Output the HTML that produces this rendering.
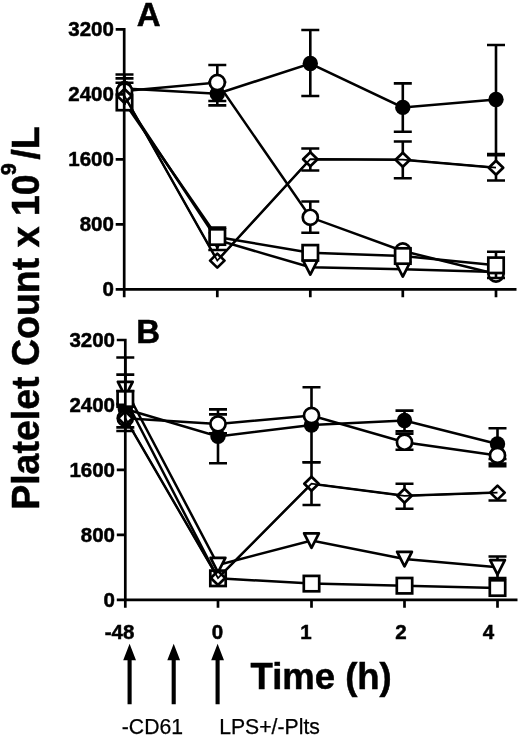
<!DOCTYPE html>
<html><head><meta charset="utf-8"><title>Platelet Count</title>
<style>
html,body{margin:0;padding:0;background:#fff}
svg{display:block}
text{font-family:"Liberation Sans",sans-serif;fill:#000}
.tk{font-size:20.5px;font-weight:bold;stroke:#000;stroke-width:.5px}
.pl{font-size:33px;font-weight:bold;stroke:#000;stroke-width:.5px}
.ax{font-size:36.5px;font-weight:bold;stroke:#000;stroke-width:.5px}
.ay{font-size:37.5px;font-weight:bold;stroke:#000;stroke-width:.5px}
.nt{font-size:21.2px;stroke:#000;stroke-width:.25px}
</style></head><body>
<svg width="520" height="737" viewBox="0 0 520 737">
<rect width="520" height="737" fill="#fff"/>
<g id="panelA">
<path fill="none" stroke="#000" stroke-width="2.6" d="M124.5 74.5V100M115.5 74.5h18"/>
<path fill="none" stroke="#000" stroke-width="2.6" d="M217.3 82V105.4M208.3 82h18M208.3 105.4h18"/>
<path fill="none" stroke="#000" stroke-width="2.6" d="M310.3 30V96M301.3 30h18M301.3 96h18"/>
<path fill="none" stroke="#000" stroke-width="2.6" d="M402.8 83.4V131.8M393.8 83.4h18M393.8 131.8h18"/>
<path fill="none" stroke="#000" stroke-width="2.6" d="M496 45V154M487 45h18M487 154h18"/>
<polyline fill="none" stroke="#000" stroke-width="2.5" points="124.5,88.5 217.3,93.75 310.3,63.5 402.8,107.4 496,99.5"/>
<circle cx="124.5" cy="88.5" r="7.7" fill="#000"/>
<circle cx="217.3" cy="93.75" r="7.7" fill="#000"/>
<circle cx="310.3" cy="63.5" r="7.7" fill="#000"/>
<circle cx="402.8" cy="107.4" r="7.7" fill="#000"/>
<circle cx="496" cy="99.5" r="7.7" fill="#000"/>
<polyline fill="none" stroke="#000" stroke-width="2.5" points="124.5,100 217.3,240 310.3,267.3 402.8,269.2 496,272"/>
<path fill="#fff" stroke="#000" stroke-linejoin="round" stroke-width="2.7" d="M117.1 92.8L131.9 92.8L124.5 107.4Z"/>
<path fill="#fff" stroke="#000" stroke-linejoin="round" stroke-width="2.7" d="M209.9 232.8L224.7 232.8L217.3 247.4Z"/>
<path fill="#fff" stroke="#000" stroke-linejoin="round" stroke-width="2.7" d="M302.9 260.1L317.7 260.1L310.3 274.7Z"/>
<path fill="#fff" stroke="#000" stroke-linejoin="round" stroke-width="2.7" d="M395.4 262L410.2 262L402.8 276.6Z"/>
<path fill="#fff" stroke="#000" stroke-linejoin="round" stroke-width="2.7" d="M488.6 264.8L503.4 264.8L496 279.4Z"/>
<path fill="none" stroke="#000" stroke-width="2.6" d="M124.5 78.4V100M115.5 78.4h18"/>
<path fill="none" stroke="#000" stroke-width="2.6" d="M217.3 65V101M208.3 65h18M208.3 101h18"/>
<path fill="none" stroke="#000" stroke-width="2.6" d="M310.3 201.5V232.7M301.3 201.5h18M301.3 232.7h18"/>
<polyline fill="none" stroke="#000" stroke-width="2.5" points="124.5,91 217.3,82.5 310.3,217.3 402.8,251 496,274"/>
<circle cx="124.5" cy="91" r="7.55" fill="#fff" stroke="#000" stroke-width="2.7"/>
<circle cx="217.3" cy="82.5" r="7.55" fill="#fff" stroke="#000" stroke-width="2.7"/>
<circle cx="310.3" cy="217.3" r="7.55" fill="#fff" stroke="#000" stroke-width="2.7"/>
<circle cx="402.8" cy="251" r="7.55" fill="#fff" stroke="#000" stroke-width="2.7"/>
<circle cx="496" cy="274" r="7.55" fill="#fff" stroke="#000" stroke-width="2.7"/>
<path fill="none" stroke="#000" stroke-width="2.6" d="M496 251.8V278M487 251.8h18M487 278h18"/>
<path fill="none" stroke="#000" stroke-width="2.6" d="M217.3 227.6V250M208.3 227.6h18M208.3 250h18"/>
<polyline fill="none" stroke="#000" stroke-width="2.5" points="124.5,102.5 217.3,237 310.3,252.8 402.8,256 496,265.3"/>
<rect x="116.8" y="94.8" width="15.4" height="15.4" fill="#fff" stroke="#000" stroke-width="2.7"/>
<rect x="209.6" y="229.3" width="15.4" height="15.4" fill="#fff" stroke="#000" stroke-width="2.7"/>
<rect x="302.6" y="245.1" width="15.4" height="15.4" fill="#fff" stroke="#000" stroke-width="2.7"/>
<rect x="395.1" y="248.3" width="15.4" height="15.4" fill="#fff" stroke="#000" stroke-width="2.7"/>
<rect x="488.3" y="257.6" width="15.4" height="15.4" fill="#fff" stroke="#000" stroke-width="2.7"/>
<path fill="none" stroke="#000" stroke-width="2.6" d="M124.5 82.7V105M115.5 82.7h18"/>
<path fill="none" stroke="#000" stroke-width="2.6" d="M310.3 148.5V170.5M301.3 148.5h18M301.3 170.5h18"/>
<path fill="none" stroke="#000" stroke-width="2.6" d="M402.8 141.5V178.2M393.8 141.5h18M393.8 178.2h18"/>
<path fill="none" stroke="#000" stroke-width="2.6" d="M496 155.2V180.5M487 155.2h18M487 180.5h18"/>
<polyline fill="none" stroke="#000" stroke-width="2.5" points="124.5,96 217.3,260.6 310.3,159.2 402.8,159.7 496,167.7"/>
<path fill="#fff" stroke="#000" stroke-linejoin="round" stroke-width="2.7" d="M117.3 96L124.5 89L131.7 96L124.5 103Z"/>
<path fill="#fff" stroke="#000" stroke-linejoin="round" stroke-width="2.7" d="M210.1 260.6L217.3 253.6L224.5 260.6L217.3 267.6Z"/>
<path fill="#fff" stroke="#000" stroke-linejoin="round" stroke-width="2.7" d="M303.1 159.2L310.3 152.2L317.5 159.2L310.3 166.2Z"/>
<path fill="#fff" stroke="#000" stroke-linejoin="round" stroke-width="2.7" d="M395.6 159.7L402.8 152.7L410 159.7L402.8 166.7Z"/>
<path fill="#fff" stroke="#000" stroke-linejoin="round" stroke-width="2.7" d="M488.8 167.7L496 160.7L503.2 167.7L496 174.7Z"/>
<polyline fill="none" stroke="#000" stroke-width="1.7" points="124.5,96 217.3,260.6 310.3,159.2 402.8,159.7 496,167.7"/>
<path fill="none" stroke="#000" stroke-width="2.7" d="M124.2 29.3V297.3M115.7 289.3H516.5M115.7 29.3H125.55M115.7 94.3H124.2M115.7 159.3H124.2M115.7 224.3H124.2M217.3 289.3V297.3M310.3 289.3V297.3M402.8 289.3V297.3M496 289.3V297.3"/>
<text x="113.9" y="36.4" text-anchor="end" class="tk">3200</text>
<text x="113.9" y="101.4" text-anchor="end" class="tk">2400</text>
<text x="113.9" y="166.4" text-anchor="end" class="tk">1600</text>
<text x="113.9" y="231.4" text-anchor="end" class="tk">800</text>
<text x="113.9" y="296.4" text-anchor="end" class="tk">0</text>
<text x="136.8" y="26" class="pl">A</text>
</g>
<g id="panelB">
<path fill="none" stroke="#000" stroke-width="2.6" d="M125.3 391V427.4M116.3 391h18M116.3 427.4h18"/>
<path fill="none" stroke="#000" stroke-width="2.6" d="M218 409.4V463.3M209 409.4h18M209 463.3h18"/>
<path fill="none" stroke="#000" stroke-width="2.6" d="M311.5 387.2V462.3M302.5 387.2h18M302.5 462.3h18"/>
<path fill="none" stroke="#000" stroke-width="2.6" d="M404.5 410.6V431.4M395.5 410.6h18M395.5 431.4h18"/>
<path fill="none" stroke="#000" stroke-width="2.6" d="M497.5 428.2V459M488.5 428.2h18M488.5 459h18"/>
<polyline fill="none" stroke="#000" stroke-width="2.5" points="125.3,409 218,436.4 311.5,425 404.5,420.5 497.5,444"/>
<circle cx="125.3" cy="409" r="7.7" fill="#000"/>
<circle cx="218" cy="436.4" r="7.7" fill="#000"/>
<circle cx="311.5" cy="425" r="7.7" fill="#000"/>
<circle cx="404.5" cy="420.5" r="7.7" fill="#000"/>
<circle cx="497.5" cy="444" r="7.7" fill="#000"/>
<path fill="none" stroke="#000" stroke-width="2.6" d="M125.3 357.5V415M116.3 357.5h18"/>
<path fill="none" stroke="#000" stroke-width="2.6" d="M497.5 556.5V578M488.5 556.5h18M488.5 578h18"/>
<polyline fill="none" stroke="#000" stroke-width="2.5" points="125.3,389 218,565 311.5,540.5 404.5,559 497.5,567.3"/>
<path fill="#fff" stroke="#000" stroke-linejoin="round" stroke-width="2.7" d="M117.9 381.8L132.7 381.8L125.3 396.4Z"/>
<path fill="#fff" stroke="#000" stroke-linejoin="round" stroke-width="2.7" d="M210.6 557.8L225.4 557.8L218 572.4Z"/>
<path fill="#fff" stroke="#000" stroke-linejoin="round" stroke-width="2.7" d="M304.1 533.3L318.9 533.3L311.5 547.9Z"/>
<path fill="#fff" stroke="#000" stroke-linejoin="round" stroke-width="2.7" d="M397.1 551.8L411.9 551.8L404.5 566.4Z"/>
<path fill="#fff" stroke="#000" stroke-linejoin="round" stroke-width="2.7" d="M490.1 560.1L504.9 560.1L497.5 574.7Z"/>
<path fill="none" stroke="#000" stroke-width="2.6" d="M125.3 404V431M116.3 404h18M116.3 431h18"/>
<path fill="none" stroke="#000" stroke-width="2.6" d="M218 414.4V433.4M209 414.4h18M209 433.4h18"/>
<path fill="none" stroke="#000" stroke-width="2.6" d="M404.5 433.8V449.7M395.5 433.8h18M395.5 449.7h18"/>
<path fill="none" stroke="#000" stroke-width="2.6" d="M497.5 455V463.6M488.5 463.6h18"/>
<path fill="none" stroke="#000" stroke-width="2.6" d="M497.5 455V466.3M488.5 466.3h18"/>
<polyline fill="none" stroke="#000" stroke-width="2.5" points="125.3,418.3 218,423.9 311.5,415.5 404.5,442.2 497.5,455.4"/>
<circle cx="125.3" cy="418.3" r="7.55" fill="#fff" stroke="#000" stroke-width="2.7"/>
<circle cx="218" cy="423.9" r="7.55" fill="#fff" stroke="#000" stroke-width="2.7"/>
<circle cx="311.5" cy="415.5" r="7.55" fill="#fff" stroke="#000" stroke-width="2.7"/>
<circle cx="404.5" cy="442.2" r="7.55" fill="#fff" stroke="#000" stroke-width="2.7"/>
<circle cx="497.5" cy="455.4" r="7.55" fill="#fff" stroke="#000" stroke-width="2.7"/>
<path fill="none" stroke="#000" stroke-width="2.6" d="M125.3 374.6V415M116.3 374.6h18"/>
<polyline fill="none" stroke="#000" stroke-width="2.5" points="125.3,399 218,578.3 311.5,583.6 404.5,585.7 497.5,588"/>
<rect x="117.6" y="391.3" width="15.4" height="15.4" fill="#fff" stroke="#000" stroke-width="2.7"/>
<rect x="210.3" y="570.6" width="15.4" height="15.4" fill="#fff" stroke="#000" stroke-width="2.7"/>
<rect x="303.8" y="575.9" width="15.4" height="15.4" fill="#fff" stroke="#000" stroke-width="2.7"/>
<rect x="396.8" y="578" width="15.4" height="15.4" fill="#fff" stroke="#000" stroke-width="2.7"/>
<rect x="489.8" y="580.3" width="15.4" height="15.4" fill="#fff" stroke="#000" stroke-width="2.7"/>
<path fill="none" stroke="#000" stroke-width="2.6" d="M311.5 462.3V505M302.5 462.3h18M302.5 505h18"/>
<path fill="none" stroke="#000" stroke-width="2.6" d="M404.5 483.8V508.7M395.5 483.8h18M395.5 508.7h18"/>
<path fill="none" stroke="#000" stroke-width="2.6" d="M497.5 492V500.5M488.5 500.5h18"/>
<polyline fill="none" stroke="#000" stroke-width="2.5" points="125.3,418.3 218,578 311.5,483.75 404.5,495.8 497.5,492.6"/>
<path fill="#fff" stroke="#000" stroke-linejoin="round" stroke-width="2.7" d="M118.1 418.3L125.3 411.3L132.5 418.3L125.3 425.3Z"/>
<path fill="#fff" stroke="#000" stroke-linejoin="round" stroke-width="2.7" d="M210.8 578L218 571L225.2 578L218 585Z"/>
<path fill="#fff" stroke="#000" stroke-linejoin="round" stroke-width="2.7" d="M304.3 483.75L311.5 476.75L318.7 483.75L311.5 490.75Z"/>
<path fill="#fff" stroke="#000" stroke-linejoin="round" stroke-width="2.7" d="M397.3 495.8L404.5 488.8L411.7 495.8L404.5 502.8Z"/>
<path fill="#fff" stroke="#000" stroke-linejoin="round" stroke-width="2.7" d="M490.3 492.6L497.5 485.6L504.7 492.6L497.5 499.6Z"/>
<polyline fill="none" stroke="#000" stroke-width="1.7" points="125.3,418.3 218,578 311.5,483.75 404.5,495.8 497.5,492.6"/>
<path fill="none" stroke="#000" stroke-width="2.7" d="M125.3 340V607.8M116.8 599.8H517.5M116.8 340H126.65M116.8 404.95H125.3M116.8 469.9H125.3M116.8 534.85H125.3M218 599.8V607.8M311.5 599.8V607.8M404.5 599.8V607.8M497.5 599.8V607.8"/>
<text x="115" y="347.1" text-anchor="end" class="tk">3200</text>
<text x="115" y="412.05" text-anchor="end" class="tk">2400</text>
<text x="115" y="477" text-anchor="end" class="tk">1600</text>
<text x="115" y="541.95" text-anchor="end" class="tk">800</text>
<text x="115" y="606.9" text-anchor="end" class="tk">0</text>
<text x="136.3" y="343" class="pl">B</text>
</g>
<g id="xlabels">
<text x="119.5" y="638.8" text-anchor="middle" class="tk">-48</text>
<text x="217.5" y="638.8" text-anchor="middle" class="tk">0</text>
<text x="306" y="638.8" text-anchor="middle" class="tk">1</text>
<text x="401" y="638.8" text-anchor="middle" class="tk">2</text>
<text x="488.5" y="638.8" text-anchor="middle" class="tk">4</text>
</g>
<text x="250.5" y="688.5" class="ax">Time (h)</text>
<text transform="translate(38.7 509.8) rotate(-90) scale(1,1.04)" class="ay">Platelet Count x 10<tspan dy="-21.5" dx="-0.8" style="font-size:21.5px">9</tspan><tspan dy="21.5" dx="3.6">/L</tspan></text>
<path fill="#000" d="M129.6 643.8L136 660.3H131.65V704.2H127.55V660.3H123.2Z"/>
<path fill="#000" d="M173.7 643.8L180.1 660.3H175.75V704.2H171.65V660.3H167.3Z"/>
<path fill="#000" d="M217.6 643.8L224 660.3H219.65V704.2H215.55V660.3H211.2Z"/>
<text x="121.8" y="734.2" class="nt">-CD61</text>
<text x="219.2" y="734.2" class="nt">LPS+/-Plts</text>
</svg>
</body></html>
